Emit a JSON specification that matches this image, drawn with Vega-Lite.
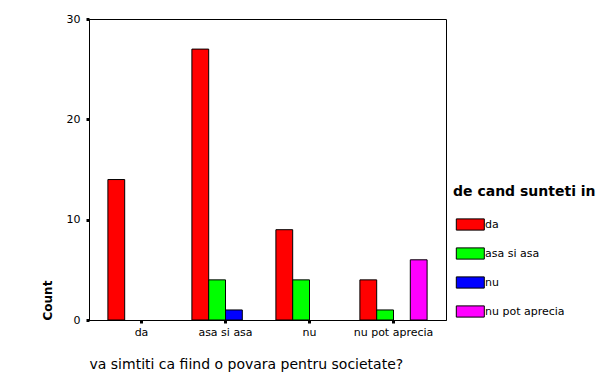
{
  "$schema": "https://vega.github.io/schema/vega-lite/v6.json",
  "width": 357,
  "height": 301,
  "autosize": {"type": "none"},
  "padding": {"left": 89, "top": 19, "right": 154, "bottom": 63},
  "background": "white",
  "config": {
    "font": "DejaVu Sans",
    "view": {"stroke": "black", "strokeWidth": 1},
    "axis": {"grid": false, "domainColor": "black", "tickColor": "black", "labelColor": "black", "titleColor": "black", "labelFont": "DejaVu Sans", "titleFont": "DejaVu Sans"},
    "legend": {"labelFont": "DejaVu Sans", "titleFont": "DejaVu Sans"}
  },
  "data": {
    "values": [
      {"q": "da", "r": "da", "count": 14},
      {"q": "asa si asa", "r": "da", "count": 27},
      {"q": "asa si asa", "r": "asa si asa", "count": 4},
      {"q": "asa si asa", "r": "nu", "count": 1},
      {"q": "nu", "r": "da", "count": 9},
      {"q": "nu", "r": "asa si asa", "count": 4},
      {"q": "nu pot aprecia", "r": "da", "count": 4},
      {"q": "nu pot aprecia", "r": "asa si asa", "count": 1},
      {"q": "nu pot aprecia", "r": "nu pot aprecia", "count": 6}
    ]
  },
  "mark": {"type": "bar", "stroke": "black", "strokeWidth": 1},
  "encoding": {
    "x": {
      "field": "q",
      "type": "nominal",
      "sort": ["da", "asa si asa", "nu", "nu pot aprecia"],
      "scale": {"paddingInner": 0.2, "paddingOuter": 0.225},
      "axis": {
        "title": "va simtiti ca fiind o povara pentru societate?",
        "titleFontSize": 14,
        "titleFontWeight": "normal",
        "titleAnchor": "start",
        "titlePadding": 20,
        "labelAngle": 0,
        "labelFontSize": 11,
        "labelPadding": 3,
        "tickSize": 3,
        "tickWidth": 3,
        "domainWidth": 1
      }
    },
    "xOffset": {
      "field": "r",
      "type": "nominal",
      "scale": {"domain": ["da", "asa si asa", "nu", "nu pot aprecia"]}
    },
    "y": {
      "field": "count",
      "type": "quantitative",
      "scale": {"domain": [0, 30], "nice": false},
      "axis": {
        "values": [0, 10, 20, 30],
        "title": "Count",
        "titleFontSize": 12,
        "titleFontWeight": "bold",
        "titleAnchor": "start",
        "titlePadding": 12,
        "labelFontSize": 11,
        "labelPadding": 6,
        "tickSize": 3,
        "tickWidth": 3,
        "domainWidth": 1
      }
    },
    "color": {
      "field": "r",
      "type": "nominal",
      "scale": {"domain": ["da", "asa si asa", "nu", "nu pot aprecia"], "range": ["#FF0000", "#00FF00", "#0000FF", "#FF00FF"]},
      "legend": {
        "title": "de cand sunteti in",
        "titleFontSize": 14,
        "titleFontWeight": "bold",
        "titleColor": "black",
        "titlePadding": 11,
        "orient": "none",
        "legendX": 364,
        "legendY": 166,
        "symbolType": "M-0.8,-0.4L1.2,-0.4L1.2,0.4L-0.8,0.4Z",
        "symbolSize": 784,
        "symbolStrokeColor": "black",
        "symbolStrokeWidth": 1,
        "symbolOpacity": 1,
        "labelFontSize": 11,
        "labelColor": "black",
        "labelOffset": 3,
        "rowPadding": 6
      }
    }
  }
}
